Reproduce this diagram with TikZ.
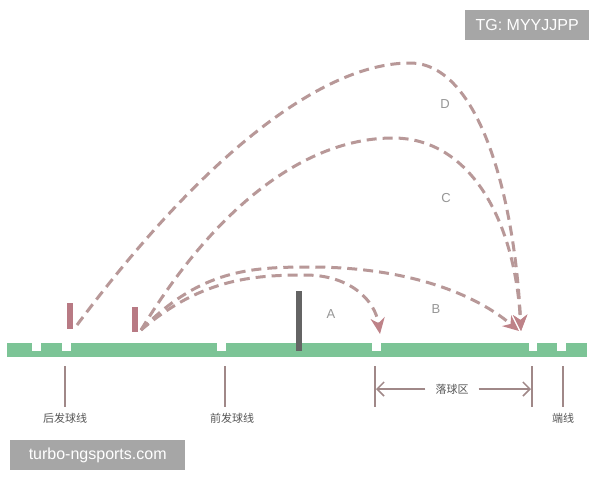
\documentclass[tikz,border=0pt]{standalone}
\usepackage{fontspec}
\setmainfont{Liberation Sans}
\newfontfamily\cjk{Noto Sans CJK SC}
\usetikzlibrary{arrows.meta}
\definecolor{court}{RGB}{124,196,150}
\definecolor{traj}{RGB}{184,152,152}
\definecolor{tip}{RGB}{190,130,136}
\definecolor{postc}{RGB}{184,122,132}
\definecolor{netc}{RGB}{100,100,100}
\definecolor{linec}{RGB}{160,136,136}
\definecolor{wm}{RGB}{166,166,166}
\definecolor{txt}{RGB}{85,85,85}
\definecolor{lettc}{RGB}{150,150,150}
\tikzset{
  shot/.style={draw=traj,line width=3pt,dash pattern=on 10pt off 6pt,
    -{Stealth[length=16pt,width=14pt,color=tip,inset=5pt]}},
  courtline/.style={draw=linec,line width=2pt},
  cnlabel/.style={text=txt,font=\cjk\fontsize{11}{13}\selectfont,inner sep=0pt},
  letter/.style={text=lettc,font=\fontsize{13}{15}\selectfont,inner sep=0pt},
  wmbox/.style={fill=wm,text=white,inner sep=0pt,minimum height=30pt,font=\fontsize{16}{19}\selectfont},
  dimarrow/.style={draw=linec,line width=1.5pt,-{Straight Barb[length=7pt,width=14pt]}}
}
\begin{document}
\begin{tikzpicture}[x=1pt,y=-1pt]
\useasboundingbox[fill=white] (0,0) rectangle (600,480);
% court bar
\node[fill=court,minimum width=580pt,minimum height=14pt,inner sep=0pt,anchor=north west] (court) at (7,343) {};
\foreach \xa/\xb in {32/41,62/71,217/226,372/381,529/537,557/566}
  \fill[white] (\xa,342.5) rectangle (\xb,351);
% net
\node[fill=netc,minimum width=6pt,minimum height=60pt,inner sep=0pt,anchor=north] (net) at (299,291) {};
% posts
\node[fill=postc,minimum width=6pt,minimum height=26pt,inner sep=0pt,anchor=north] (post1) at (70,303) {};
\node[fill=postc,minimum width=6pt,minimum height=25pt,inner sep=0pt,anchor=north] (post2) at (135,307) {};
% shot coordinates
\coordinate (sD) at (77,325);
\coordinate (sABC) at (141,330);
\coordinate (landA) at (380,334);
\coordinate (landB) at (519,331);
\coordinate (landC) at (521,331);
% trajectories
\draw[shot] (sD) .. controls (200,160) and (320,63) .. (410,63)
  .. controls (480,63) and (515,200) .. (landC);
\draw[shot] (sABC) .. controls (220,200) and (310,138) .. (393,138)
  .. controls (470,138) and (515,220) .. (landC);
\draw[shot] (sABC) .. controls (200,270) and (250,267) .. (310,267)
  .. controls (400,267) and (470,290) .. (landB);
\draw[shot] (sABC) .. controls (200,280) and (250,275) .. (305,275)
  .. controls (350,275) and (375,300) .. (landA);
% letters
\node[letter] (lD) at (445,104) {D};
\node[letter] (lC) at (446,198) {C};
\node[letter] (lB) at (436,309) {B};
\node[letter] (lA) at (331,314) {A};
% court lines below
\foreach \n/\x in {back/65,front/225,zl/375,zr/532,end/563}
  \draw[courtline] (\x,366) coordinate (\n top) -- (\x,407) coordinate (\n bot);
\node[cnlabel] (backlbl) at (65,418) {后发球线};
\node[cnlabel] (frontlbl) at (232,418) {前发球线};
\node[cnlabel] (endlbl) at (563,418) {端线};
\node[cnlabel] (zonelbl) at (452,389) {落球区};
\coordinate (zlarr) at (376,389);
\coordinate (zrarr) at (531,389);
\draw[dimarrow] ([xshift=-10pt]zonelbl.west) -- (zlarr);
\draw[dimarrow] ([xshift=10pt]zonelbl.east) -- (zrarr);
% watermarks
\node[wmbox,minimum width=124pt,anchor=north west] (wm1) at (465,10) {TG: MYYJJPP};
\node[wmbox,minimum width=175pt,anchor=north west] (wm2) at (10,440) {turbo-ngsports.com};
\end{tikzpicture}
\end{document}
